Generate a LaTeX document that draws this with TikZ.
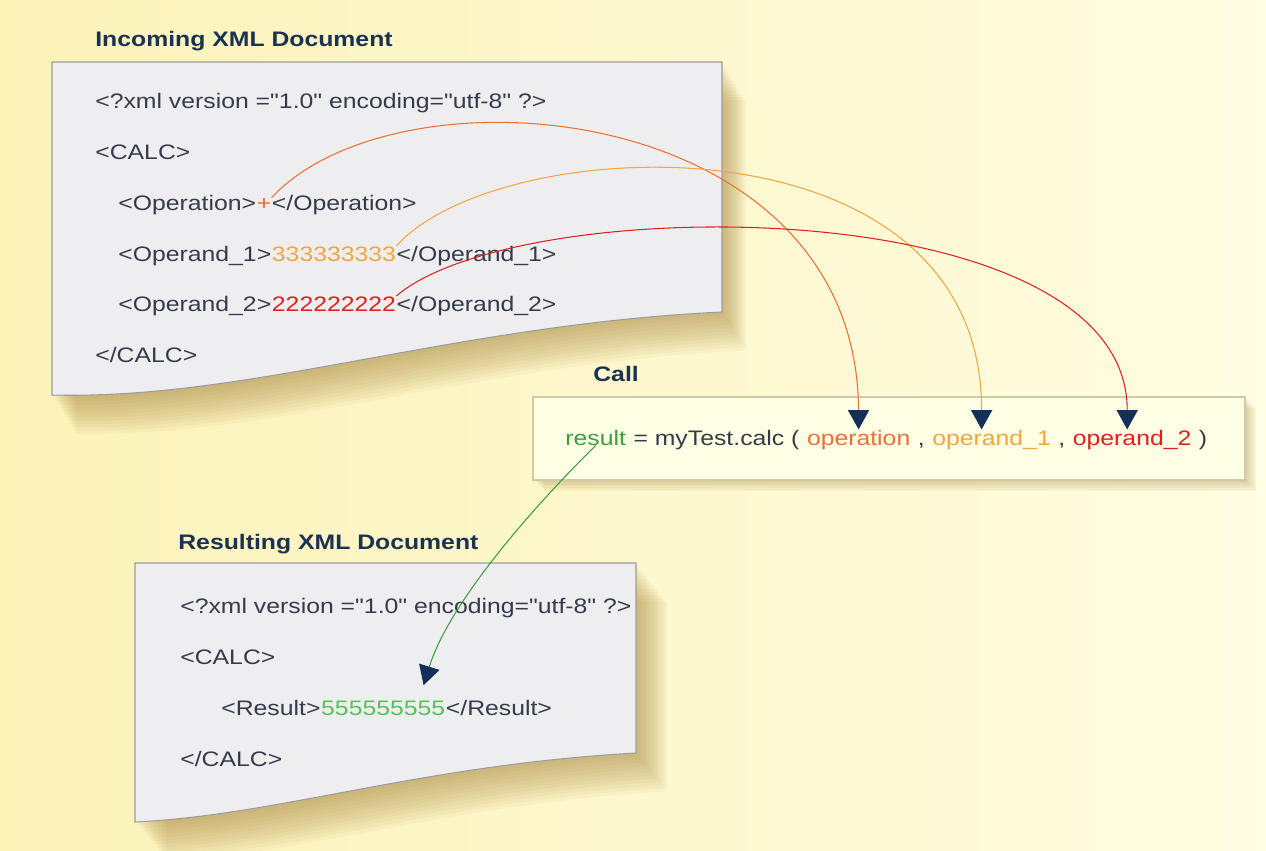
\documentclass[tikz,border=0pt]{standalone}
\usepackage{fontspec}
\setmainfont{Liberation Sans}[FakeStretch=1.18, Ligatures=TeXOff]
\usetikzlibrary{positioning,arrows.meta}

\definecolor{bgleft}{HTML}{FBF2B8}
\definecolor{bgright}{HTML}{FFFDE2}
\definecolor{docfill}{HTML}{EEEEF1}
\definecolor{docline}{HTML}{9C9C9C}
\definecolor{callfill}{HTML}{FFFFE6}
\definecolor{callline}{HTML}{CFCBA8}
\definecolor{shadowgold}{HTML}{A8843C}
\definecolor{txt}{HTML}{353B4A}
\definecolor{ttl}{HTML}{1C3252}
\definecolor{navy}{HTML}{12305A}
\definecolor{oprcol}{HTML}{EC6F34}
\definecolor{opdonecol}{HTML}{F2A540}
\definecolor{opdtwocol}{HTML}{E21F1F}
\definecolor{rescol}{HTML}{3E9E3E}
\definecolor{fivecol}{HTML}{55C255}

\tikzset{
  code/.style={inner sep=0pt, text=txt, font=\fontsize{11.95}{14}\selectfont},
  heading/.style={inner sep=0pt, text=ttl, font=\fontsize{11.95}{14}\selectfont\bfseries},
  link/.style={-{Triangle[width=12pt,length=11pt,color=navy]}, line width=0.6pt},
  doc/.style={fill=docfill, draw=docline, line width=0.6pt},
}

\begin{document}
\begin{tikzpicture}[x=0.02cm, y=-0.02cm]
  \useasboundingbox (0,0) rectangle (1266,850);
  \shade[left color=bgleft, right color=bgright] (0,0) rectangle (1266,850);

  % incoming document
  \foreach \s in {1,...,12}
    \fill[shadowgold, opacity=0.06, shift={(\s*2,\s*3.2)}] (52,62) -- (722,62) -- (722,312)
      .. controls (450,325) and (250,400) .. (52,395) -- cycle;
  \filldraw[doc] (52,62) -- (722,62) -- (722,312)
    .. controls (450,325) and (250,400) .. (52,395) -- cycle;
  \node[heading, anchor=base west] (intitle) at (95,46) {Incoming XML Document};
  \node[code, anchor=base west] (xmlin) at (95,108) {<?xml version ="1.0" encoding="utf-8" ?>};
  \node[code, anchor=base west] (calcin) at (95,159) {<CALC>};
  \node[code, anchor=base west] (opopen) at (118,210) {<Operation>};
  \node[code, base right=0pt of opopen, text=oprcol] (plus) {+};
  \node[code, base right=0pt of plus] (opclose) {</Operation>};
  \node[code, anchor=base west] (oneopen) at (118,261) {<Operand\_1>};
  \node[code, base right=0pt of oneopen, text=opdonecol] (threes) {333333333};
  \node[code, base right=0pt of threes] (oneclose) {</Operand\_1>};
  \node[code, anchor=base west] (twoopen) at (118,311) {<Operand\_2>};
  \node[code, base right=0pt of twoopen, text=opdtwocol] (twos) {222222222};
  \node[code, base right=0pt of twos] (twoclose) {</Operand\_2>};
  \node[code, anchor=base west] (calcendin) at (95,362) {</CALC>};

  % call
  \foreach \s in {1,...,7}
    \fill[shadowgold, opacity=0.06, shift={(\s*1.6,\s*1.6)}] (533,397) rectangle (1245,480);
  \filldraw[fill=callfill, draw=callline, line width=0.6pt] (533,397) rectangle (1245,480);
  \node[heading, anchor=base west] (calltitle) at (593,381) {Call};
  \node[code, anchor=base west, text=rescol] (res) at (565,445) {result};
  \node[code, base right=0pt of res] (calc) {\ = myTest.calc (\ \mbox{}};
  \node[code, base right=0pt of calc, text=oprcol] (argone) {operation};
  \node[code, base right=0pt of argone] (sepone) {\ ,\ \mbox{}};
  \node[code, base right=0pt of sepone, text=opdonecol] (argtwo) {operand\_1};
  \node[code, base right=0pt of argtwo] (septwo) {\ ,\ \mbox{}};
  \node[code, base right=0pt of septwo, text=opdtwocol] (argthree) {operand\_2};
  \node[code, base right=0pt of argthree] (close) {\ )};

  % resulting document
  \foreach \s in {1,...,12}
    \fill[shadowgold, opacity=0.06, shift={(\s*2.6,\s*3.2)}] (135,563) -- (636,563) -- (636,753)
      .. controls (420,765) and (280,815) .. (135,822) -- cycle;
  \filldraw[doc] (135,563) -- (636,563) -- (636,753)
    .. controls (420,765) and (280,815) .. (135,822) -- cycle;
  \node[heading, anchor=base west] (outtitle) at (178,549) {Resulting XML Document};
  \node[code, anchor=base west] (xmlout) at (180,613) {<?xml version ="1.0" encoding="utf-8" ?>};
  \node[code, anchor=base west] (calcout) at (180,664) {<CALC>};
  \node[code, anchor=base west] (resopen) at (221,715) {<Result>};
  \node[code, base right=0pt of resopen, text=fivecol] (fives) {555555555};
  \node[code, base right=0pt of fives] (resclose) {</Result>};
  \node[code, anchor=base west] (calcendout) at (180,766) {</CALC>};

  % connectors
  \draw[link, draw=oprcol] (plus.north east) .. controls (400,60) and (857,100) .. (argone.north);
  \draw[link, draw=opdonecol] (threes.north east) .. controls (500,130) and (982,110) .. ([xshift=-0.2cm]argtwo.north);
  \draw[link, draw=opdtwocol] (twos.north east) .. controls (520,190) and (1128,190) .. ([xshift=-0.1cm]argthree.north);
  \draw[link, draw=rescol] (res.south) .. controls (540,500) and (450,600) .. ([xshift=-0.44cm,yshift=0.3cm]fives.north east);
\end{tikzpicture}
\end{document}
